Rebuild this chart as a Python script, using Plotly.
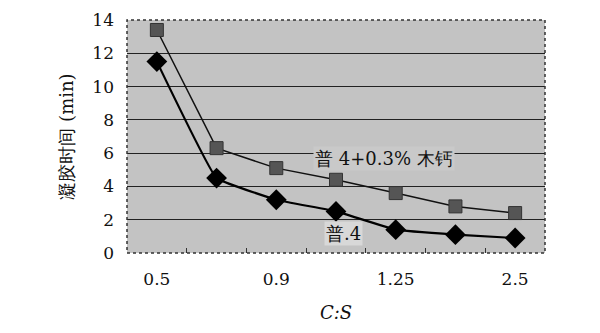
import plotly.graph_objects as go

# C:S ratio categories (only every other one is labelled on the axis)
positions = [1, 2, 3, 4, 5, 6, 7]
tick_positions = [1, 3, 5, 7]
tick_labels = ["0.5", "0.9", "1.25", "2.5"]

# setting time (min)
pu4_lig = [13.4, 6.3, 5.1, 4.4, 3.6, 2.8, 2.4]   # 普4 + 0.3% 木钙
pu4 = [11.5, 4.5, 3.2, 2.5, 1.4, 1.1, 0.9]        # 普.4

serif = "DejaVu Serif"

fig = go.Figure()

fig.add_trace(go.Scatter(
    x=positions, y=pu4_lig, mode="lines+markers",
    line=dict(color="#111111", width=1.5),
    marker=dict(symbol="square", size=13, color="#555555",
                line=dict(color="#333333", width=1)),
    showlegend=False, cliponaxis=False,
))
fig.add_trace(go.Scatter(
    x=positions, y=pu4, mode="lines+markers",
    line=dict(color="#000000", width=2.2, shape="spline", smoothing=0.25),
    marker=dict(symbol="diamond", size=16, color="#000000"),
    showlegend=False, cliponaxis=False,
))
# invisible trace carrying the boundary tick marks axis
fig.add_trace(go.Scatter(
    x=[1.5, 6.5], y=[0, 0], xaxis="x2", mode="markers",
    marker=dict(opacity=0), showlegend=False, hoverinfo="skip",
))

fig.add_annotation(x=4.8, y=5.65, text="普 4+0.3% 木钙", showarrow=False,
                   font=dict(family=serif, size=18, color="#111111"),
                   bgcolor="#c9c9c9", borderpad=1)
fig.add_annotation(x=4.12, y=1.2, text="普.4", showarrow=False,
                   font=dict(family=serif, size=18, color="#111111"),
                   bgcolor="#d8d8d8", borderpad=1)

fig.add_shape(type="rect", xref="paper", yref="paper", x0=0, x1=1, y0=0, y1=1,
              line=dict(color="#333333", width=1.5, dash="dot"), layer="above")

fig.update_layout(
    width=600, height=333,
    margin=dict(l=127, r=55, t=10, b=80),
    paper_bgcolor="white",
    plot_bgcolor="#c3c3c3",
    font=dict(family=serif, size=16, color="#111111"),
    xaxis=dict(
        range=[0.5, 7.5], tickmode="array",
        tickvals=tick_positions, ticktext=tick_labels,
        ticks="", showgrid=False, zeroline=False, showline=False,
        ticklabelstandoff=14,
        tickfont=dict(family=serif, size=17),
        title=dict(text="<i>C:S</i>", font=dict(family=serif, size=18), standoff=18),
    ),
    xaxis2=dict(
        range=[0.5, 7.5], overlaying="x", anchor="y",
        tickmode="array", tickvals=[1.5, 2.5, 3.5, 4.5, 5.5, 6.5],
        ticks="inside", ticklen=5, tickwidth=1, tickcolor="#333333",
        showticklabels=False, showgrid=False, zeroline=False, showline=False,
    ),
    yaxis=dict(
        range=[0, 14], tickmode="array", tickvals=[0, 2, 4, 6, 8, 10, 12, 14],
        showgrid=True, gridcolor="#222222", gridwidth=1,
        zeroline=False, showline=False, ticks="",
        ticklabelstandoff=12, ticklabeloverflow="allow",
        tickfont=dict(family=serif, size=17),
        title=dict(text="凝胶时间 (min)", font=dict(family=serif, size=18), standoff=14),
    ),
)

fig.write_html("out.html")
